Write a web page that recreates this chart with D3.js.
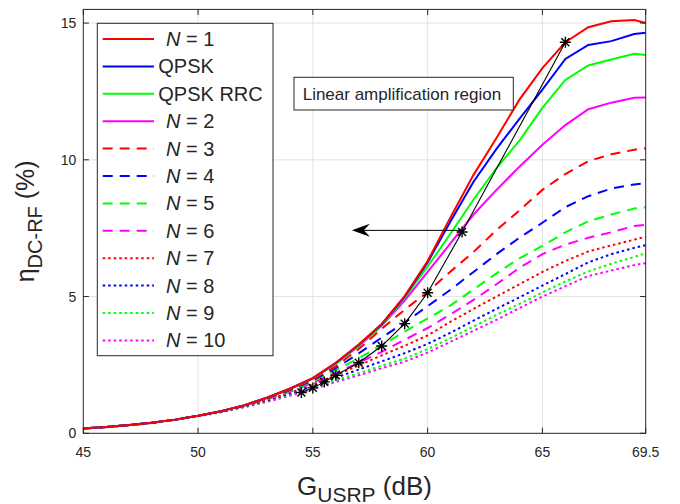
<!DOCTYPE html>
<html><head><meta charset="utf-8">
<script src="https://cdn.jsdelivr.net/npm/d3@7"></script>
<style>body{margin:0;background:#fff;} svg{display:block;} text{font-family:"Liberation Sans",Arial,Helvetica,sans-serif;fill:#262626;}</style>
</head><body><svg id="c" width="680" height="504"></svg>
<script>
const gain = [45,46,47,48,49,50,51,52,53,54,55,56,57,58,59,60,61,62,63,64,65,66,67,68,69,69.5];
const n1      = [0.18,0.23,0.30,0.39,0.50,0.64,0.81,1.02,1.30,1.63,2.02,2.58,3.25,4.00,5.02,6.30,7.90,9.45,10.80,12.20,13.35,14.30,14.85,15.07,15.11,15.00];
const qpsk    = [0.18,0.23,0.30,0.39,0.50,0.64,0.81,1.02,1.30,1.63,2.02,2.57,3.24,3.99,5.00,6.25,7.75,9.20,10.40,11.50,12.57,13.69,14.20,14.34,14.60,14.65];
const qpskRrc = [0.18,0.23,0.30,0.39,0.50,0.64,0.81,1.02,1.30,1.62,2.01,2.55,3.20,3.95,4.95,6.10,7.30,8.55,9.70,10.70,11.90,12.92,13.45,13.67,13.88,13.83];
const n2  = [0.18,0.23,0.30,0.39,0.50,0.64,0.81,1.02,1.30,1.62,2.00,2.55,3.18,3.93,4.85,5.90,6.95,8.00,8.90,9.75,10.55,11.27,11.85,12.09,12.27,12.28];
const n3  = [0.18,0.23,0.30,0.39,0.50,0.64,0.80,1.01,1.29,1.60,1.97,2.45,3.08,3.82,4.52,5.17,5.92,6.63,7.43,8.15,8.90,9.48,9.95,10.20,10.37,10.42];
const n4  = [0.18,0.23,0.30,0.39,0.50,0.64,0.80,1.01,1.28,1.58,1.94,2.38,2.92,3.50,4.05,4.65,5.25,5.90,6.55,7.15,7.70,8.27,8.67,8.95,9.10,9.14];
const n5  = [0.18,0.23,0.30,0.39,0.50,0.64,0.80,1.00,1.26,1.55,1.90,2.30,2.75,3.22,3.72,4.20,4.68,5.26,5.85,6.40,6.85,7.35,7.75,8.00,8.22,8.26];
const n6  = [0.18,0.23,0.30,0.39,0.50,0.64,0.80,1.00,1.24,1.52,1.85,2.21,2.58,2.98,3.42,3.85,4.35,4.88,5.45,6.05,6.55,6.90,7.15,7.35,7.58,7.62];
const n7  = [0.18,0.23,0.30,0.39,0.50,0.63,0.79,0.99,1.22,1.48,1.79,2.12,2.48,2.85,3.20,3.58,4.08,4.55,5.00,5.45,5.90,6.30,6.65,6.87,7.08,7.19];
const n8  = [0.18,0.23,0.30,0.39,0.50,0.63,0.79,0.98,1.20,1.45,1.73,2.03,2.33,2.63,2.93,3.27,3.68,4.12,4.55,4.97,5.40,5.82,6.25,6.55,6.78,6.88];
const n9  = [0.18,0.23,0.30,0.38,0.49,0.62,0.78,0.97,1.18,1.41,1.66,1.94,2.20,2.47,2.73,3.08,3.48,3.90,4.33,4.73,5.15,5.55,5.92,6.20,6.45,6.58];
const n10 = [0.17,0.22,0.29,0.38,0.49,0.62,0.77,0.95,1.15,1.37,1.62,1.88,2.12,2.38,2.62,2.95,3.35,3.75,4.15,4.58,5.00,5.38,5.75,5.95,6.15,6.22];
const starGain = [54.5,55,55.5,56,57,58,59,60,61.5,66];
const starEff  = [1.49,1.66,1.88,2.12,2.58,3.19,4.01,5.14,7.36,14.3];
const xTicks = [45,50,55,60,65,69.5];
const yTicks = [0,5,10,15];
const seriesNames = ["N = 1","QPSK","QPSK RRC","N = 2","N = 3","N = 4","N = 5","N = 6","N = 7","N = 8","N = 9","N = 10"];
const seriesColors = ["#ff0000","#0000ff","#00ff00","#ff00ff","#ff0000","#0000ff","#00ff00","#ff00ff","#ff0000","#0000ff","#00ff00","#ff00ff"];
const seriesStyles = ["solid","solid","solid","solid","dash","dash","dash","dash","dot","dot","dot","dot"];
const seriesValues = [n1,qpsk,qpskRrc,n2,n3,n4,n5,n6,n7,n8,n9,n10];
const annotationText = "Linear amplification region";
const arrowFrom = [61.5, 7.42], arrowTo = [56.7, 7.42];

const svg = d3.select("#c");
const L=83.3, R=645.7, T=9.4, B=433.3;
const x = d3.scaleLinear().domain([45,69.5]).range([L,R]);
const y = d3.scaleLinear().domain([0,15.5]).range([B,T]);
const dashOf = s => s==="dash" ? "10,7" : s==="dot" ? "2.5,3" : null;

// grid
const g = svg.append("g");
g.selectAll(".gx").data(xTicks.slice(1,-1)).join("line").attr("x1",d=>x(d)).attr("x2",d=>x(d)).attr("y1",T).attr("y2",B).attr("stroke","#e3e3e3").attr("stroke-width",1);
g.selectAll(".gy").data(yTicks.slice(1)).join("line").attr("y1",d=>y(d)).attr("y2",d=>y(d)).attr("x1",L).attr("x2",R).attr("stroke","#e3e3e3").attr("stroke-width",1);

// curves
const line = d3.line().x((d,i)=>x(gain[i])).y(d=>y(d));
svg.append("g").selectAll("path").data(seriesValues.map((v,i)=>({v,i})).reverse()).join("path")
  .attr("d",d=>line(d.v)).attr("fill","none").attr("stroke",d=>seriesColors[d.i]).attr("stroke-width",2)
  .attr("stroke-dasharray",d=>dashOf(seriesStyles[d.i]));

// star line
const starLine = d3.line().x((d,i)=>x(starGain[i])).y(d=>y(d));
svg.append("path").attr("d",starLine(starEff)).attr("fill","none").attr("stroke","#000").attr("stroke-width",1.1);
const sr=5.5;
svg.append("g").selectAll("path").data(starEff.map((v,i)=>[starGain[i],v])).join("path")
  .attr("transform",d=>`translate(${x(d[0])},${y(d[1])})`)
  .attr("d",`M${-sr},0H${sr}M0,${-sr}V${sr}M${-sr*0.72},${-sr*0.72}L${sr*0.72},${sr*0.72}M${-sr*0.72},${sr*0.72}L${sr*0.72},${-sr*0.72}`)
  .attr("stroke","#000").attr("stroke-width",1.4).attr("fill","none");

// arrow
const ax0=x(arrowFrom[0]), ax1=x(arrowTo[0]), ay=y(arrowTo[1]);
svg.append("line").attr("x1",ax0).attr("x2",ax1+4).attr("y1",ay).attr("y2",ay).attr("stroke","#000").attr("stroke-width",1);
svg.append("path").attr("d",`M${ax1},${ay}L${ax1+18},${ay-6.5}L${ax1+12},${ay}L${ax1+18},${ay+6.5}Z`).attr("fill","#000");

// axes box and ticks
const ax = svg.append("g").attr("stroke","#262626").attr("stroke-width",1).attr("fill","none");
ax.append("rect").attr("x",L).attr("y",T).attr("width",R-L).attr("height",B-T);
const tl=5.6;
xTicks.forEach(t=>{ax.append("line").attr("x1",x(t)).attr("x2",x(t)).attr("y1",B).attr("y2",B-tl);
  ax.append("line").attr("x1",x(t)).attr("x2",x(t)).attr("y1",T).attr("y2",T+tl);});
yTicks.forEach(t=>{ax.append("line").attr("y1",y(t)).attr("y2",y(t)).attr("x1",L).attr("x2",L+tl);
  ax.append("line").attr("y1",y(t)).attr("y2",y(t)).attr("x1",R).attr("x2",R-tl);});
svg.append("g").selectAll("text").data(xTicks).join("text").attr("x",d=>x(d)).attr("y",B+24).attr("text-anchor","middle").attr("font-size",14).text(d=>d);
svg.append("g").selectAll("text").data(yTicks).join("text").attr("x",L-7).attr("y",d=>y(d)+5).attr("text-anchor","end").attr("font-size",14).text(d=>d);

// axis labels
const xl = svg.append("text").attr("x",(L+R)/2).attr("y",495).attr("text-anchor","middle").attr("font-size",26);
xl.append("tspan").text("G");
xl.append("tspan").attr("font-size",21).attr("dy",7).text("USRP");
xl.append("tspan").attr("dy",-7).text(" (dB)");
const yl = svg.append("text").attr("transform",`translate(34,${(T+B)/2}) rotate(-90)`).attr("text-anchor","middle").attr("font-size",25);
yl.append("tspan").text("η");
yl.append("tspan").attr("font-size",20).attr("dy",8).text("DC-RF");
yl.append("tspan").attr("dy",-8).text(" (%)");

// legend
const lg = svg.append("g");
lg.append("rect").attr("x",97.3).attr("y",23.3).attr("width",273-97.3).attr("height",355.7-23.3).attr("fill","#fff").attr("stroke","#262626").attr("stroke-width",1);
seriesNames.forEach((nm,i)=>{
  const yy = 39 + i*27.4;
  lg.append("line").attr("x1",102.7).attr("x2",154).attr("y1",yy).attr("y2",yy).attr("stroke",seriesColors[i]).attr("stroke-width",2).attr("stroke-dasharray",dashOf(seriesStyles[i]));
  const t = lg.append("text").attr("y",yy+7).attr("font-size",20);
  if(nm.startsWith("N")){
    t.attr("x",166);
    t.append("tspan").attr("font-style","italic").text("N");
    t.append("tspan").text(nm.slice(1));
  } else { t.attr("x",158.3).text(nm); }
});

// annotation
svg.append("rect").attr("x",294).attr("y",77.3).attr("width",513.3-294).attr("height",110-77.3).attr("fill","#fff").attr("stroke","#262626").attr("stroke-width",1);
svg.append("text").attr("x",302.7).attr("y",100).attr("font-size",17).text(annotationText);
</script></body></html>
